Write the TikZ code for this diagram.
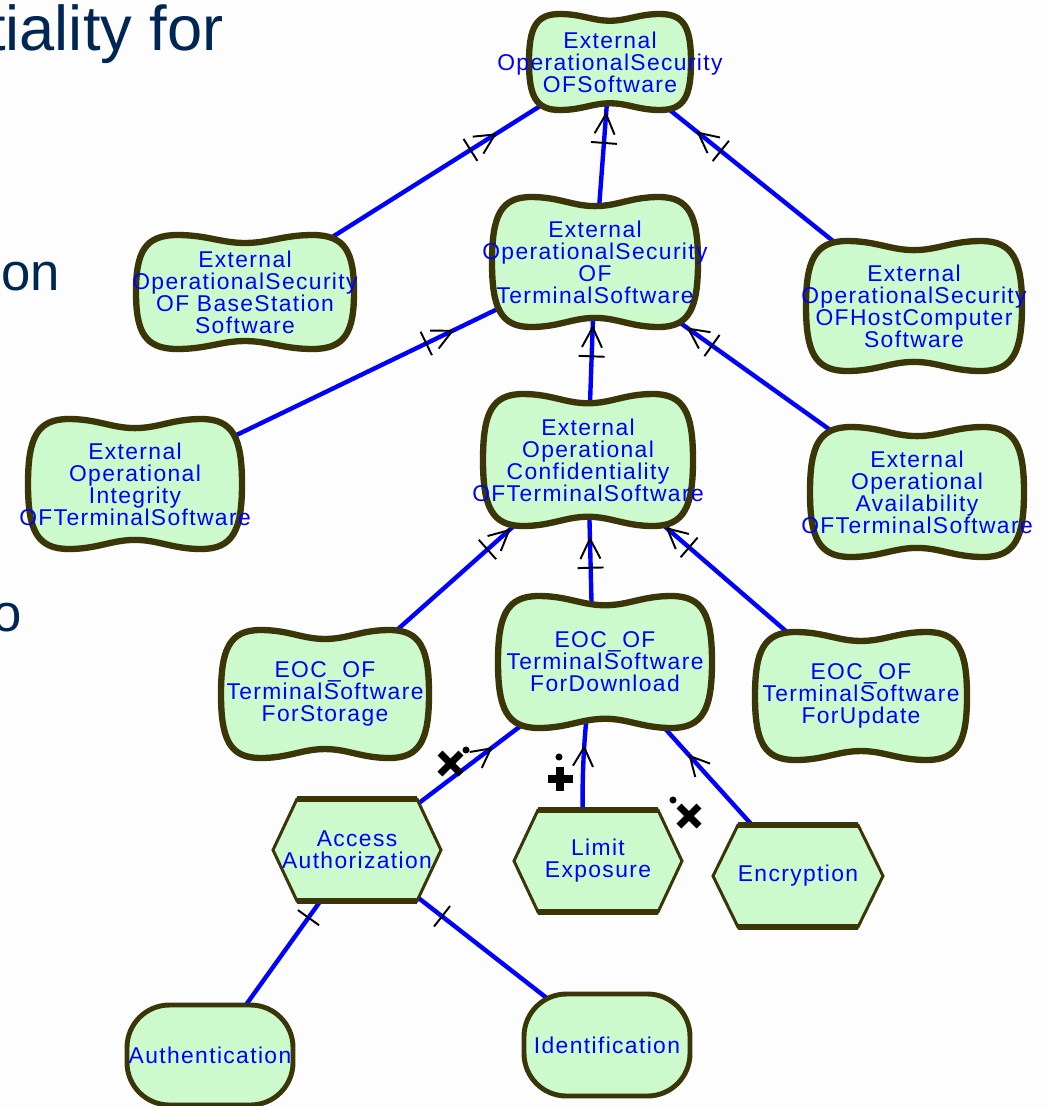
\documentclass[tikz,border=0pt]{standalone}
\usepackage{fontspec}
\usetikzlibrary{calc,decorations.markings}
\newfontfamily\sgfont[LetterSpace=6]{Liberation Sans}
\newfontfamily\slidefont{Liberation Sans}
\definecolor{sgfill}{RGB}{204,250,204}
\definecolor{sgborder}{RGB}{58,54,8}
\definecolor{sgtext}{RGB}{0,0,255}
\definecolor{slidetext}{RGB}{0,38,84}
\definecolor{paper}{RGB}{253,253,253}
\pgfdeclarelayer{bg}
\pgfdeclarelayer{links}
\pgfdeclarelayer{shapes}
\pgfsetlayers{bg,links,shapes,main}

% softgoal outline round node #1 (half width #2, half height #3)
\newcommand\sgcloud[3]{%
  \begin{scope}[shift={(#1.center)}]
    \filldraw[cloudline] (-#2,0)
      .. controls (-#2,-0.7*#3) and (-0.92*#2,-#3) .. (-0.62*#2,-#3)
      .. controls (-0.35*#2,-#3) and (-0.22*#2,-0.86*#3) .. (0,-0.86*#3)
      .. controls (0.22*#2,-0.86*#3) and (0.35*#2,-#3) .. (0.62*#2,-#3)
      .. controls (0.92*#2,-#3) and (#2,-0.7*#3) .. (#2,0)
      .. controls (#2,0.7*#3) and (0.92*#2,#3) .. (0.62*#2,#3)
      .. controls (0.35*#2,#3) and (0.22*#2,0.86*#3) .. (0,0.86*#3)
      .. controls (-0.22*#2,0.86*#3) and (-0.35*#2,#3) .. (-0.62*#2,#3)
      .. controls (-0.92*#2,#3) and (-#2,0.7*#3) .. cycle;
  \end{scope}}
% operationalization outline (hexagon), #4 = half width of top edge
\newcommand\sgop[4]{%
  \begin{scope}[shift={(#1.center)}]
    \filldraw[opline] (-#2,0) -- (-#4,-#3) -- (#4,-#3) -- (#2,0)
      -- (#4,#3) -- (-#4,#3) -- cycle;
    \draw[opline, line width=3.4pt] (-#4,-#3) -- (#4,-#3) (-#4,#3) -- (#4,#3);
  \end{scope}}
% claim outline (stadium)
\newcommand\sgclaim[3]{%
  \begin{scope}[shift={(#1.center)}]
    \filldraw[claimline] (-#2,-#3) rectangle (#2,#3);
  \end{scope}}

\begin{document}
\begin{tikzpicture}[x=0.02cm, y=-0.02cm,
    goal/.style={font={\sgfont\fontsize{13}{12.5}\selectfont}, text=sgtext,
                 align=center, inner sep=0pt},
    slide/.style={font={\slidefont\fontsize{36}{40}\selectfont}, text=slidetext,
                  inner sep=0pt},
    slidebody/.style={slide, font={\slidefont\fontsize{30}{34}\selectfont}},
    cloudline/.style={draw=sgborder, fill=sgfill, line width=3.6pt},
    opline/.style={draw=sgborder, fill=sgfill, line width=1.7pt},
    claimline/.style={draw=sgborder, fill=sgfill, line width=2.8pt,
                      rounded corners=0.85cm},
    markline/.style={draw=black, line width=1.1pt},
    link/.style={draw=sgtext, line width=2.5pt},
    andlink/.style={link, postaction={decorate, decoration={markings,
        mark=at position #1 with {\draw[markline] (-20,-10) -- (0,0) -- (-20,10);
                                   \draw[markline] (-29,-13) -- (-29,13);}}}},
    helplink/.style={link, postaction={decorate, decoration={markings,
        mark=at position #1 with {\draw[markline] (-19,-10) -- (0,0) -- (-19,10);}}}},
    ticklink/.style={link, postaction={decorate, decoration={markings,
        mark=at position #1 with {\draw[markline] (0,-13) -- (0,13);}}}},
    contrib/.style={draw=black, line width=4pt},
  ]
  \useasboundingbox (0,0) rectangle (1049,1106);
  \begin{pgfonlayer}{bg}
    \fill[paper] (0,0) rectangle (1049,1106);
  \end{pgfonlayer}

  % slide text behind the graph
  \begin{scope}
    \clip (0,0) rectangle (1049,1106);
    \node[slide, anchor=base east] (title) at (224,50) {tiality for};
    \node[slidebody, anchor=base east] (bodya) at (60,290) {on};
    \node[slidebody, anchor=base east] (bodyb) at (22,631) {o};
  \end{scope}

  % softgoals
  \node[goal] (sw) at (610,62) {External\\OperationalSecurity\\OFSoftware};
  \node[goal] (basesw) at (245,292) {External\\OperationalSecurity\\OF BaseStation\\Software};
  \node[goal] (termsw) at (595,262) {External\\OperationalSecurity\\OF\\TerminalSoftware};
  \node[goal] (hostsw) at (914,306) {External\\OperationalSecurity\\OFHostComputer\\Software};
  \node[goal] (integ) at (135,484) {External\\Operational\\Integrity\\OFTerminalSoftware};
  \node[goal] (conf) at (588,460) {External\\Operational\\Confidentiality\\OFTerminalSoftware};
  \node[goal] (avail) at (917,492) {External\\Operational\\Availability\\OFTerminalSoftware};
  \node[goal] (storage) at (325,694) {EOC\_OF\\TerminalSoftware\\ForStorage};
  \node[goal] (download) at (605,662) {EOC\_OF\\TerminalSoftware\\ForDownload};
  \node[goal] (update) at (861,696) {EOC\_OF\\TerminalSoftware\\ForUpdate};
  % operationalizations and claims
  \node[goal] (access) at (357,850) {Access\\Authorization};
  \node[goal] (limitexp) at (598,861) {Limit\\Exposure};
  \node[goal] (encrypt) at (798,876) {Encryption};
  \node[goal] (authent) at (210,1055) {Authentication};
  \node[goal] (ident) at (607,1045) {Identification};

  \begin{pgfonlayer}{shapes}
    \sgcloud{sw}{81}{48}
    \sgcloud{basesw}{109}{57}
    \sgcloud{termsw}{103}{65}
    \sgcloud{hostsw}{108}{65}
    \sgcloud{integ}{107}{65}
    \sgcloud{conf}{105}{66}
    \sgcloud{avail}{107}{65}
    \sgcloud{storage}{104}{64}
    \sgcloud{download}{107}{66}
    \sgcloud{update}{106}{64}
    \sgop{access}{84}{51}{60}
    \sgop{limitexp}{84}{51}{60}
    \sgop{encrypt}{85}{51}{60}
    \sgclaim{authent}{83}{50}
    \sgclaim{ident}{83}{51}
  \end{pgfonlayer}

  \begin{pgfonlayer}{links}
    % and-decompositions
    \draw[andlink=0.685] (basesw.center) -- (sw.center);
    \draw[andlink=0.74] (termsw.center) -- (sw.center);
    \draw[andlink=0.71] (hostsw.center) -- (sw.center);
    \draw[andlink=0.69] (integ.center) -- (termsw.center);
    \draw[andlink=0.67] (conf.center) -- (termsw.center);
    \draw[andlink=0.71] (avail.center) -- (termsw.center);
    \draw[andlink=0.70] (storage.center) -- (conf.center);
    \draw[andlink=0.61] ($(download.center)+(-12,0)$) -- (conf.center);
    \draw[andlink=0.71] (update.center) -- (conf.center);
    % contributions
    \draw[helplink=0.54] (access.center) -- (download.center);
    \draw[helplink=0.57] ($(limitexp.center)+(-14,0)$) to[bend left=5]
      ($(download.center)+(-12,0)$);
    \draw[helplink=0.56] (encrypt.center) -- (download.center);
    % claims
    \draw[ticklink=0.67] (authent.center) -- (access.center);
    \draw[ticklink=0.66] (ident.center) -- (access.center);
  \end{pgfonlayer}

  % contribution signs
  \draw[contrib] (440,753) -- (461,774) (440,774) -- (461,753);
  \fill (466,750) circle[radius=2pt];
  \draw[contrib] (548,779) -- (573,779) (560,767) -- (560,791);
  \fill (559,757) circle[radius=2pt];
  \draw[contrib] (679,806) -- (699,826) (679,826) -- (699,806);
  \fill (673,800) circle[radius=2pt];
\end{tikzpicture}
\end{document}
